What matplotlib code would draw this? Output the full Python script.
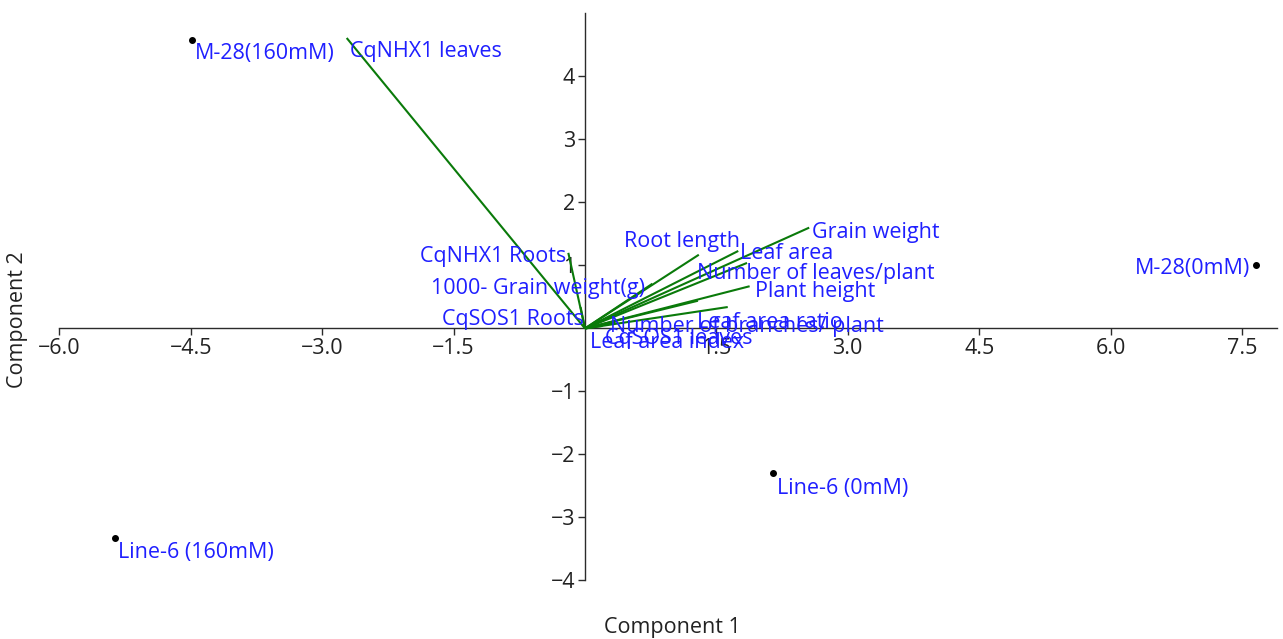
import matplotlib

matplotlib.use("Agg")

import matplotlib.pyplot as plt
import numpy as np

plt.rcParams["font.family"] = ["Open Sans", "DejaVu Sans"]

# Sample scores on the first two components
SAMPLES = ["M-28(160mM)", "M-28(0mM)", "Line-6 (0mM)", "Line-6 (160mM)"]
SAMPLE_PC1 = [-4.49, 7.66, 2.15, -5.37]
SAMPLE_PC2 = [4.58, 1.01, -2.29, -3.33]

# Variable loadings (biplot vectors)
VARIABLES = [
    "CqNHX1 leaves",
    "CqNHX1 Roots",
    "CqSOS1 Roots",
    "1000- Grain weight(g)",
    "Root length",
    "Leaf area",
    "Number of leaves/plant",
    "Grain weight",
    "Plant height",
    "Number of branches/ plant",
    "Leaf area ratio",
    "CqSOS1 leaves",
    "Leaf area index",
]
VAR_PC1 = [-2.72, -0.19, -0.05, 0.77, 1.30, 1.75, 1.85, 2.56, 1.88, 1.29, 1.63, 0.35, 0.20]
VAR_PC2 = [4.61, 1.20, 0.34, 0.71, 1.17, 1.23, 1.04, 1.60, 0.67, 0.44, 0.34, 0.10, 0.04]

X_TICKS = [-6.0, -4.5, -3.0, -1.5, 1.5, 3.0, 4.5, 6.0, 7.5]
Y_TICKS = [-4, -3, -2, -1, 1, 2, 3, 4]

# label placement relative to the tip, in pixels (dx, dy up), plus alignment
SAMPLE_LABEL_POS = [(3, -14, "left"), (-6, -4, "right"), (4, -16, "left"), (3, -14, "left")]
VAR_LABEL_POS = [
    (3, -14, "left"),
    (-2, -4, "right"),
    (3, -12, "right"),
    (-7, -5, "right"),
    (-75, 13, "left"),
    (2, -3, "left"),
    (-50, -11, "left"),
    (3, -5, "left"),
    (5, -5, "left"),
    (-88, -26, "left"),
    (-31, -15, "left"),
    (-11, -16, "left"),
    (-12, -17, "left"),
]

TEXT_BLUE = "#1f1fff"
VEC_GREEN = "#0a7a0a"
AXIS_GREY = "#2b2b2b"
FS = 15.5

fig = plt.figure(figsize=(12.83, 6.39), dpi=100, facecolor="white")
ax = fig.add_axes([0.0258, 0.062, 0.9695, 0.917])
ax.set_xlim(-6.3, 7.9)
ax.set_ylim(-4.3, 5.0)

for side in ("top", "right"):
    ax.spines[side].set_visible(False)
ax.spines["left"].set_position(("data", 0))
ax.spines["bottom"].set_position(("data", 0))
ax.spines["left"].set_bounds(-4, 5.0)
ax.spines["bottom"].set_bounds(-6.0, 7.9)
for side in ("left", "bottom"):
    ax.spines[side].set_color(AXIS_GREY)
    ax.spines[side].set_linewidth(1.0)

ax.set_xticks(X_TICKS)
ax.set_xticklabels([f"{v:.1f}".replace("-", "\u2212") for v in X_TICKS])
ax.set_yticks(Y_TICKS)
ax.set_yticklabels([f"{v:d}".replace("-", "\u2212") for v in Y_TICKS])
ax.tick_params(axis="both", direction="out", length=5, width=1.0, color=AXIS_GREY,
               labelsize=FS, labelcolor="#222222", pad=2)

px = 0.72  # points per pixel at 100 dpi

for x, y, name in zip(VAR_PC1, VAR_PC2, VARIABLES):
    ax.plot([0, x], [0, y], color=VEC_GREEN, lw=1.5, solid_capstyle="butt", zorder=3)
for x, y, name, (dx, dy, ha) in zip(VAR_PC1, VAR_PC2, VARIABLES, VAR_LABEL_POS):
    ax.annotate(name, (x, y), xytext=(dx * px, dy * px), textcoords="offset points",
                ha=ha, va="center", color=TEXT_BLUE, fontsize=FS, zorder=4)

ax.plot(SAMPLE_PC1, SAMPLE_PC2, "o", color="black", ms=4, zorder=5)
for x, y, name, (dx, dy, ha) in zip(SAMPLE_PC1, SAMPLE_PC2, SAMPLES, SAMPLE_LABEL_POS):
    ax.annotate(name, (x, y), xytext=(dx * px, dy * px), textcoords="offset points",
                ha=ha, va="center", color=TEXT_BLUE, fontsize=FS, zorder=5)

fig.text(672 / 1283, 1 - 627 / 639, "Component 1", ha="center", va="center",
         fontsize=FS, color="#222222")
fig.text(18 / 1283, 1 - 320 / 639, "Component 2", ha="center", va="center",
         rotation=90, fontsize=FS, color="#222222")

fig.savefig("out.png", dpi=100, facecolor="white")
